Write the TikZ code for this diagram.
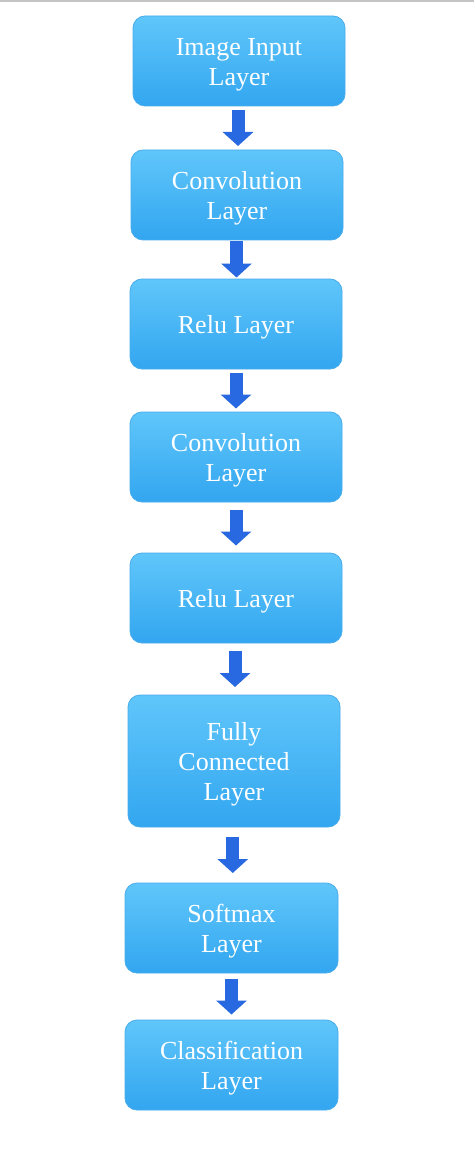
\documentclass[tikz,border=0pt]{standalone}
\usepackage{fontspec}
\setmainfont{Liberation Serif}
\usetikzlibrary{arrows.meta,calc}
\definecolor{boxtop}{RGB}{96,198,250}
\definecolor{boxbot}{RGB}{50,166,240}
\definecolor{boxedge}{RGB}{72,172,236}
\definecolor{arrowblue}{RGB}{40,104,224}
\definecolor{topbar}{RGB}{196,196,196}
\newcommand\tup{\rule{0pt}{25pt}}
\tikzset{
  layerbox/.style={rectangle, rounded corners=12pt, draw=boxedge, line width=0.8pt,
    top color=boxtop, bottom color=boxbot, text=white, align=center,
    minimum width=212pt, minimum height=90pt, inner sep=0pt,
    font=\fontsize{26}{30}\selectfont},
  flowarrow/.style={draw=arrowblue, line width=13pt,
    -{Triangle[width=30pt,length=14pt]}}
}
\begin{document}
\begin{tikzpicture}[x=1pt,y=-1pt]
\useasboundingbox (0,0) rectangle (474,1150);
\fill[white] (0,0) rectangle (474,1150);
\fill[topbar] (0,0) rectangle (474,2.5);
\node[layerbox] (b1) at (239,61) {\tup Image Input\\Layer};
\node[layerbox] (b2) at (237,195) {\tup Convolution\\Layer};
\node[layerbox] (b3) at (236,324) {\tup Relu Layer};
\node[layerbox] (b4) at (236,457) {\tup Convolution\\Layer};
\node[layerbox] (b5) at (236,598) {\tup Relu Layer};
\node[layerbox, minimum height=132pt] (b6) at (234,761) {\tup Fully\\Connected\\Layer};
\node[layerbox, minimum width=213pt] (b7) at (231.5,928) {\tup Softmax\\Layer};
\node[layerbox, minimum width=213pt] (b8) at (231.5,1065) {\tup Classification\\Layer};
\foreach \a/\b in {b1/b2,b2/b3,b3/b4,b4/b5,b5/b6,b6/b7,b7/b8}{
  \coordinate (m\a) at ($(\a.south)!0.5!(\b.north)$);
  \draw[flowarrow] ($(m\a)+(0,-18)$) -- ($(m\a)+(0,18)$);
}
\end{tikzpicture}
\end{document}
